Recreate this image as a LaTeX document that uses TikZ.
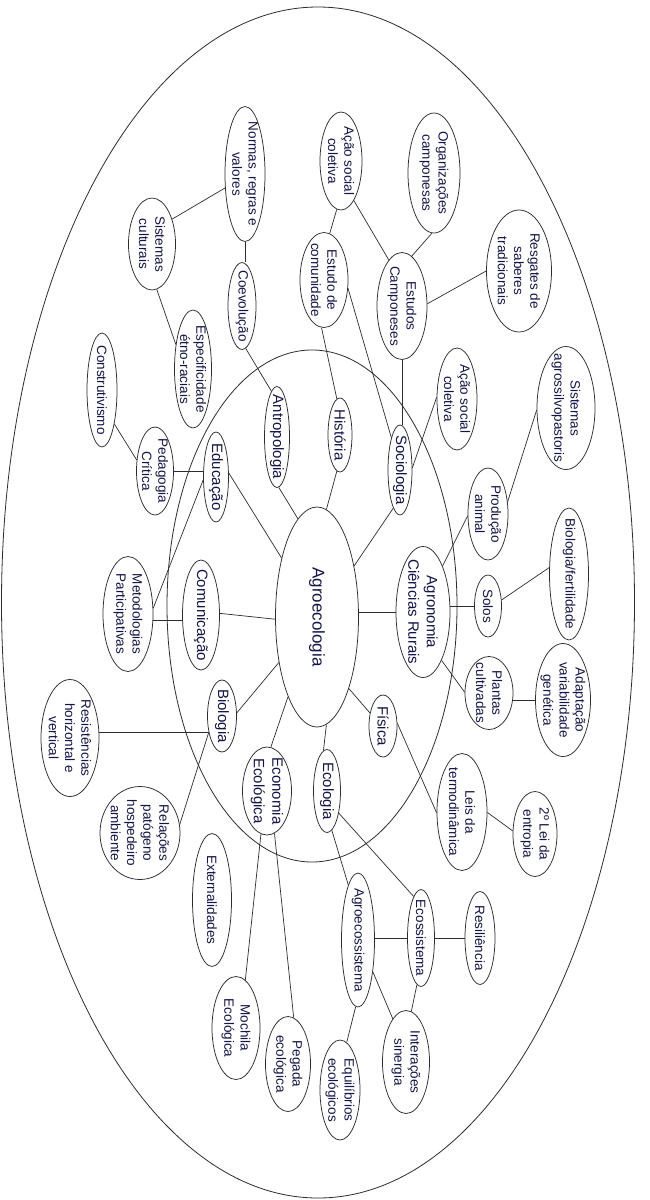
\documentclass[tikz,border=0pt]{standalone}
\usepackage{fontspec}
\setmainfont{Liberation Sans}
\usetikzlibrary{shapes.geometric}
\definecolor{linec}{RGB}{45,45,45}
\definecolor{txtc}{RGB}{20,20,70}
\tikzset{
  bub/.style={draw=linec, ellipse, inner sep=0pt, line width=0.75pt},
  lbl/.style={rotate=-90, align=center, inner sep=0pt, text=txtc, font=\fontsize{13.5}{16.2}\selectfont},
  lblb/.style={rotate=-90, align=center, inner sep=0pt, text=txtc, font=\fontsize{15}{18.5}\selectfont},
  lblc/.style={rotate=-90, align=center, inner sep=0pt, text=txtc, font=\fontsize{17}{20}\selectfont},
  con/.style={draw=linec, line width=0.7pt},
  ring/.style={draw=linec, line width=0.8pt}
}
\newcommand\bub[7][lbl]{\node[bub, minimum width=#5, minimum height=#6, label={[#1]center:{#7}}] (#2) at (#3,#4) {};}
\begin{document}
\begin{tikzpicture}[x=1pt,y=-1pt]
\useasboundingbox (0,0) rectangle (649,1200);
\fill[white] (0,0) rectangle (649,1200);
% rings
\draw[ring] (318,602.5) ellipse [x radius=316.5, y radius=595.5];
\draw[ring] (312,606) ellipse [x radius=145, y radius=256];
% central
\bub[lblc]{agro}{317}{617}{83}{220}{Agroecologia}
% first level
\bub[lblb]{agron}{423}{612}{54}{131}{Agronomia\\Ciências Rurais}
\bub[lblb]{soc}{400}{470}{24}{90}{Sociologia}
\bub[lblb]{hist}{340}{435}{24}{74}{História}
\bub[lblb]{antro}{277}{437}{25}{101}{Antropologia}
\bub[lblb]{edu}{216}{477}{25}{90}{Educação}
\bub[lblb]{comun}{201}{615}{37}{110}{Comunicação}
\bub[lblb]{bio}{222}{716}{29}{72}{Biologia}
\bub[lblb]{econ}{267}{791}{49}{88}{Economia\\Ecológica}
\bub[lblb]{ecol}{327}{791}{27}{83}{Ecologia}
\bub[lblb]{fis}{383}{726}{28}{62}{Física}
% second level
\bub{solos}{488}{606}{27}{62}{Solos}
\bub{biofert}{569}{574}{39}{132}{Biologia/fertilidade}
\bub{prod}{488}{514}{40}{92}{Produção\\animal}
\bub{sist}{566}{408}{58}{123}{Sistemas\\agrossilvopastoris}
\bub{acaob}{457}{399}{40}{102}{Ação social\\coletiva}
\bub{ped}{155}{471}{37}{88}{Pedagogia\\Crítica}
\bub{constr}{102}{390}{30}{114}{Construtivismo}
\bub{espec}{193}{369}{37}{118}{Especificidade\\étno-raciais}
\bub{metod}{128}{614}{50}{115}{Metodologias\\Participativas}
\bub{resist}{70}{738}{58}{117}{Resistências\\horizontal e\\vertical}
\bub{relac}{140}{833}{80}{93}{Relações\\patógeno\\hospedeiro\\ambiente}
\bub{plant}{489}{693}{48}{73}{Plantas\\cultivadas}
\bub{adapt}{563}{700}{55}{113}{Adaptação\\variabilidade\\genética}
\bub{leis}{462}{812}{50}{117}{Leis da\\termodinâmica}
\bub{entrop}{535}{834}{44}{85}{2º Lei da\\entropia}
\bub{extern}{212}{900}{39}{133}{Externalidades}
\bub{mochila}{236}{1028}{48}{103}{Mochila\\Ecológica}
\bub{pegada}{288}{1064}{45}{95}{Pegada\\ecológica}
\bub{agroeco}{358}{940}{33}{134}{Agroecossistema}
\bub{ecossist}{421}{938}{27}{97}{Ecossistema}
\bub{resil}{480}{938}{30}{93}{Resiliência}
\bub{inter}{406}{1062}{47}{103}{Interações\\sinergia}
\bub{equil}{340}{1090}{40}{100}{Equilíbrios\\ecológicos}
\bub{normas}{245}{174}{40}{135}{Normas, regras e\\valores}
\bub{sistcult}{152}{244}{47}{92}{Sistemas\\culturais}
\bub{coev}{242}{306}{28}{87}{Coevolução}
\bub{acaoa}{341}{161}{42}{98}{Ação social\\coletiva}
\bub{estcom}{324}{280}{48}{95}{Estudo de\\comunidade}
\bub{org}{434}{173}{52}{120}{Organizações\\camponesas}
\bub{estcamp}{402}{306}{50}{107}{Estudos\\Camponeses}
\bub{resg}{519}{271}{65}{122}{Resgates de\\saberes\\tradicionais}
% connectors
\draw[con] (agron.west) -- (agron.west -| agro.east);
\draw[con] (agro.54) -- (soc.-100);
\draw[con] (agro.85) -- (hist.-95);
\draw[con] (agro.101) -- (antro.-88);
\draw[con] (agro.121) -- (edu.17);
\draw[con] (agro.183) -- (comun.5);
\draw[con] (agro.230) -- (bio.12);
\draw[con] (agro.250) -- (econ.85);
\draw[con] (agro.275) -- (ecol.95);
\draw[con] (agro.-66) -- (fis.135);
\draw[con] (solos.west) -- (solos.west -| agron.east);
\draw[con] (agron.67) -- (prod.185);
\draw[con] (agron.-69) -- (plant.178);
\draw[con] (prod.32) -- (sist.184);
\draw[con] (solos.24) -- (biofert.162);
\draw[con] (adapt.west) -- (adapt.west -| plant.east);
\draw[con] (fis.11) -- (leis.182);
\draw[con] (leis.-1) -- (entrop.172);
\draw[con] (soc.10) -- (acaob.175);
\draw[con] (estcamp.south) -- (estcamp.south |- soc.north);
\draw[con] (estcom.-19) -- (soc.105);
\draw[con] (estcom.-93) -- (hist.95);
\draw[con] (estcom.83) -- (acaoa.-95);
\draw[con] (acaoa.-72) -- (estcamp.106);
\draw[con] (org.-92) -- (estcamp.79);
\draw[con] (estcamp.5) -- (resg.180);
\draw[con] (coev.-85) -- (antro.97);
\draw[con] (normas.south) -- (normas.south |- coev.north);
\draw[con] (normas.215) -- (sistcult.51);
\draw[con] (sistcult.-84) -- (espec.125);
\draw[con] (ped.east) -- (ped.east -| edu.west);
\draw[con] (constr.-70) -- (ped.149);
\draw[con] (edu.193) -- (metod.13);
\draw[con] (comun.195) -- (comun.195 -| metod.east);
\draw[con] (bio.231) -- (bio.231 -| resist.east);
\draw[con] (bio.231) -- (relac.12);
\draw[con] (econ.262) -- (mochila.79);
\draw[con] (econ.-80) -- (pegada.83);
\draw[con] (ecol.-83) -- (agroeco.100);
\draw[con] (ecol.-62) -- (ecossist.100);
\draw[con] (ecossist.west) -- (ecossist.west -| agroeco.east);
\draw[con] (ecossist.east) -- (resil.west);
\draw[con] (agroeco.-65) -- (inter.107);
\draw[con] (ecossist.-95) -- (inter.84);
\draw[con] (agroeco.-92) -- (equil.82);
\end{tikzpicture}
\end{document}
